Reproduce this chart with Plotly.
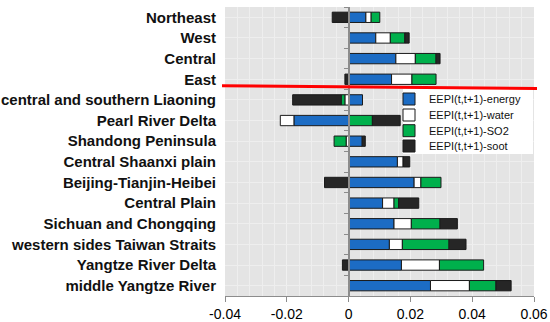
import plotly.graph_objects as go

regions = ["Northeast", "West", "Central", "East",
           "central and southern Liaoning", "Pearl River Delta", "Shandong Peninsula",
           "Central Shaanxi plain", "Beijing-Tianjin-Heibei", "Central Plain",
           "Sichuan and Chongqing", "western sides Taiwan Straits",
           "Yangtze River Delta", "middle Yangtze River"]

energy = [0.0056, 0.0088, 0.0153, 0.0139, 0.0045, -0.0177, 0.0044, 0.0158,
          0.0212, 0.0110, 0.0147, 0.0132, 0.0171, 0.0265]
water = [0.0017, 0.0047, 0.0063, 0.0066, -0.0012, -0.0044, -0.0008, 0.0019,
         0.0022, 0.0037, 0.0056, 0.0042, 0.0123, 0.0126]
so2 = [0.0028, 0.0047, 0.0067, 0.0078, -0.0012, 0.0077, -0.0039, 0.0,
       0.0065, 0.0015, 0.0093, 0.0151, 0.0143, 0.0086]
soot = [-0.0053, 0.0014, 0.0013, -0.0012, -0.0157, 0.0090, 0.0010, 0.0021,
        -0.0078, 0.0065, 0.0056, 0.0055, -0.0020, 0.0049]

series_names = ["EEPI(t,t+1)-energy", "EEPI(t,t+1)-water", "EEPI(t,t+1)-SO2", "EEPI(t,t+1)-soot"]
series_vals = [energy, water, so2, soot]
colors = ["#1c6cc4", "#ffffff", "#00b04c", "#262626"]

x_ticks = [-0.04, -0.02, 0, 0.02, 0.04, 0.06]
x_ticktext = ["-0.04", "-0.02", "0", "0.02", "0.04", "0.06"]

# plot area in pixels (for paper-coordinate placement of decorations)
W, H = 550, 322
ML, MR, MT, MB = 225, 16, 7, 26
PW, PH = W - ML - MR, H - MT - MB


def px_x(px):
    return (px - ML) / PW


def px_y(py):
    return (H - MB - py) / PH


legend_ids = ["legend", "legend2", "legend3", "legend4"]
legend_rows_px = [99, 115, 130.7, 146]

fig = go.Figure()
for name, vals, col, lid in zip(series_names, series_vals, colors, legend_ids):
    fig.add_trace(go.Bar(
        y=regions, x=vals, name=name, orientation="h", legend=lid,
        marker=dict(color=col, line=dict(color="#1a1a1a", width=1)),
    ))

# invisible trace to carry the category axis drawn at x = 0
fig.add_trace(go.Scatter(
    y=regions, x=[0] * len(regions), yaxis="y2", mode="markers",
    marker=dict(opacity=0), showlegend=False, hoverinfo="skip",
))

legend_common = dict(
    x=px_x(389), xanchor="left", yanchor="middle",
    bgcolor="rgba(0,0,0,0)", borderwidth=0,
    font=dict(size=11, family="Liberation Sans, Arial, sans-serif", color="#111111"),
    itemwidth=30,
)
legends = {}
for lid, py in zip(legend_ids, legend_rows_px):
    legends[lid] = dict(legend_common, y=px_y(py))

fig.update_layout(
    width=W, height=H,
    margin=dict(l=ML, r=MR, t=MT, b=MB, autoexpand=False),
    barmode="relative", bargap=0.5,
    plot_bgcolor="#e4e4e4", paper_bgcolor="#ffffff",
    font=dict(family="Liberation Sans, Arial, sans-serif", color="#000000"),
    xaxis=dict(
        range=[-0.04, 0.06], tickvals=x_ticks, ticktext=x_ticktext,
        ticks="outside", ticklen=5, tickcolor="#8c8c8c",
        showline=True, linecolor="#8c8c8c", linewidth=1,
        showgrid=True, gridcolor="#f0f0f0", gridwidth=1,
        minor=dict(dtick=0.004, showgrid=True, gridcolor="#eeeeee", gridwidth=1),
        zeroline=False, tickfont=dict(size=14), automargin=False,
    ),
    yaxis=dict(
        categoryorder="array", categoryarray=regions,
        range=[13.5, -0.5], showgrid=True, gridcolor="#eeeeee",
        ticks="", ticklabelstandoff=8, zeroline=False, automargin=False,
        tickprefix="<b>", ticksuffix="</b>",
        tickfont=dict(size=15, family="Liberation Sans, Arial, sans-serif", color="#111111"),
    ),
    yaxis2=dict(
        overlaying="y", anchor="free", position=0.4, side="left",
        categoryorder="array", categoryarray=regions,
        range=[13.5, -0.5], showticklabels=False, showgrid=False,
        ticks="outside", tickson="boundaries", ticklen=4, tickcolor="#8c8c8c",
        showline=True, linecolor="#8c8c8c", linewidth=1.5, automargin=False,
    ),
    showlegend=True,
    **legends,
)

# white legend box
fig.add_shape(type="rect", xref="paper", yref="paper",
              x0=px_x(403), x1=px_x(533), y0=px_y(154), y1=px_y(89),
              fillcolor="#ffffff", line=dict(width=0), layer="above")

# red separator line between the regional groups
fig.add_shape(type="line", xref="paper", yref="paper",
              x0=px_x(222), x1=px_x(537), y0=px_y(85.8), y1=px_y(88.4),
              line=dict(color="#ff0000", width=3))

fig.write_html("out.html",
               config={"displayModeBar": False},
               post_script="document.body.style.margin='0';document.body.style.padding='0';")
